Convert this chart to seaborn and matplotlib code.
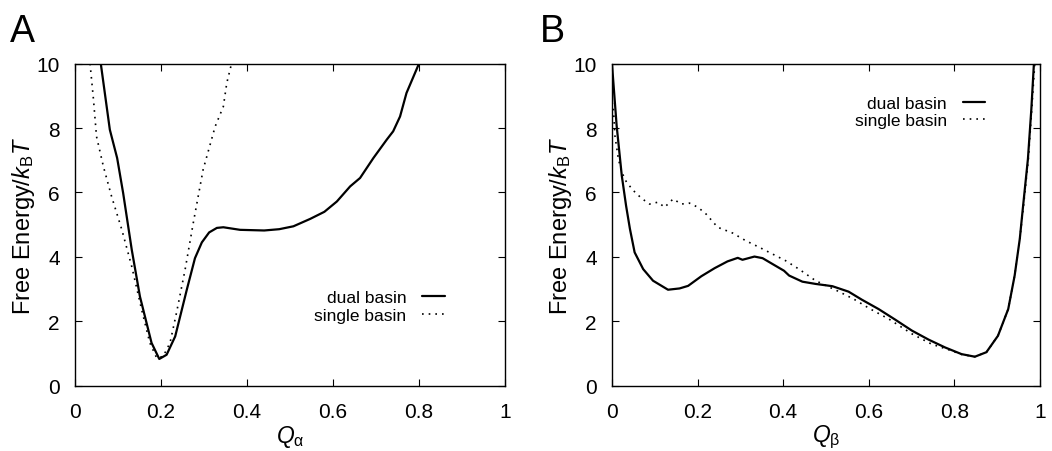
import matplotlib
matplotlib.use('Agg')
import matplotlib.pyplot as plt
import seaborn as sns

# Panel A: free energy along Q_alpha
qa_dual = [0.06, 0.081, 0.098, 0.112, 0.132, 0.151, 0.178, 0.196, 0.213, 0.233, 0.26, 0.279,
           0.295, 0.312, 0.33, 0.345, 0.384, 0.44, 0.475, 0.508, 0.547, 0.58, 0.609, 0.64,
           0.663, 0.694, 0.725, 0.74, 0.756, 0.771, 0.80]
fa_dual = [10, 7.95, 7.07, 5.98, 4.22, 2.77, 1.33, 0.83, 0.96, 1.53, 2.98, 3.96,
           4.45, 4.76, 4.9, 4.92, 4.84, 4.82, 4.86, 4.95, 5.18, 5.4, 5.72, 6.19,
           6.45, 7.07, 7.64, 7.9, 8.36, 9.09, 10]
qa_single = [0.035, 0.043, 0.05, 0.066, 0.085, 0.109, 0.132, 0.155, 0.174, 0.19, 0.205,
             0.221, 0.236, 0.256, 0.275, 0.298, 0.326, 0.345, 0.353, 0.364, 0.375]
fa_single = [10, 8.88, 7.74, 6.81, 5.88, 4.84, 3.70, 2.36, 1.33, 0.86, 0.91,
             1.33, 2.26, 3.6, 5.05, 6.71, 8.05, 8.67, 9.4, 10, 10]

# Panel B: free energy along Q_beta
qb_dual = [0.0, 0.011, 0.023, 0.033, 0.042, 0.053, 0.073, 0.096, 0.131, 0.158, 0.178, 0.209,
           0.24, 0.27, 0.294, 0.305, 0.333, 0.352, 0.375, 0.402, 0.414, 0.445, 0.476, 0.515,
           0.553, 0.584, 0.623, 0.662, 0.701, 0.74, 0.778, 0.817, 0.848, 0.875, 0.902, 0.926,
           0.941, 0.953, 0.96, 0.972, 0.98, 0.986]
fb_dual = [10, 8.07, 6.52, 5.59, 4.87, 4.14, 3.62, 3.26, 2.98, 3.02, 3.1, 3.4,
           3.65, 3.86, 3.97, 3.91, 4.01, 3.96, 3.78, 3.57, 3.42, 3.23, 3.16, 3.09,
           2.92, 2.67, 2.38, 2.05, 1.71, 1.43, 1.19, 0.98, 0.9, 1.04, 1.55, 2.38,
           3.42, 4.56, 5.49, 7.04, 8.59, 10]
qb_single = [0.0, 0.003, 0.007, 0.015, 0.023, 0.034, 0.05, 0.069, 0.088, 0.108, 0.123, 0.143,
             0.162, 0.181, 0.201, 0.22, 0.247, 0.282, 0.313, 0.344, 0.375, 0.406, 0.437, 0.476,
             0.526, 0.565, 0.604, 0.647, 0.701, 0.747, 0.786, 0.817, 0.848, 0.875, 0.902, 0.926,
             0.941, 0.953, 0.961, 0.973, 0.981, 0.988]
fb_single = [8.8, 8.7, 7.76, 7.04, 6.63, 6.32, 6.06, 5.82, 5.64, 5.7, 5.54, 5.8,
             5.64, 5.67, 5.54, 5.33, 4.92, 4.74, 4.5, 4.3, 4.09, 3.88, 3.62, 3.26,
             2.95, 2.69, 2.38, 2.07, 1.61, 1.29, 1.12, 0.97, 0.9, 1.04, 1.55, 2.38,
             3.42, 4.56, 5.49, 7.04, 8.59, 10]

ticks = [0, 0.2, 0.4, 0.6, 0.8, 1]
tick_labels = ['0', '0.2', '0.4', '0.6', '0.8', '1']
yticks = [0, 2, 4, 6, 8, 10]

sns.set_theme(style='ticks')
plt.rcParams['font.family'] = ['Liberation Sans', 'DejaVu Sans']
plt.rcParams['mathtext.fontset'] = 'custom'
plt.rcParams['mathtext.rm'] = 'Liberation Sans'
plt.rcParams['mathtext.it'] = 'Liberation Sans:italic'
plt.rcParams['text.color'] = 'black'
plt.rcParams['axes.labelcolor'] = 'black'

fig = plt.figure(figsize=(10.52, 4.52), dpi=100)
ax_a = fig.add_axes([0.0713, 0.1445, 0.4087, 0.7124])
ax_b = fig.add_axes([0.5817, 0.1445, 0.4068, 0.7124])

panels = [
    (ax_a, qa_dual, fa_dual, qa_single, fa_single, r'$Q_{\mathrm{α}}$', (0.86, 0.245)),
    (ax_b, qb_dual, fb_dual, qb_single, fb_single, r'$Q_{\mathrm{β}}$', (0.872, 0.85)),
]

for ax, qd, fd, qs, fs, xlab, anchor in panels:
    sns.lineplot(x=qd, y=fd, ax=ax, color='black', lw=1.6, sort=False, estimator=None,
                 label='dual basin')
    sns.lineplot(x=qs, y=fs, ax=ax, color='black', lw=1.2, sort=False, estimator=None,
                 linestyle=(0, (1, 3)), label='single basin')
    ax.set_xlim(0, 1)
    ax.set_ylim(0, 10)
    ax.set_xticks(ticks)
    ax.set_xticklabels(tick_labels)
    ax.set_yticks(yticks)
    ax.tick_params(direction='in', top=True, right=True, length=5, width=0.8,
                   labelsize=15, colors='black')
    ax.tick_params(axis='x', pad=12)
    ax.tick_params(axis='y', pad=11)
    for s in ax.spines.values():
        s.set_linewidth(1.0)
        s.set_color('black')
    ax.set_xlabel(xlab, fontsize=16.5)
    ax.set_ylabel(r'Free Energy/$k_{\mathrm{B}}T$', fontsize=17)
    ax.xaxis.set_label_coords(0.5, -0.115)
    ax.yaxis.set_label_coords(-0.088, 0.5)
    ax.legend(loc='center right', bbox_to_anchor=anchor, frameon=False, markerfirst=False,
              fontsize=12.5, handlelength=1.3, handletextpad=0.9, labelspacing=0.15,
              borderpad=0, borderaxespad=0)

fig.text(0.0095, 0.907, 'A', fontsize=27)
fig.text(0.513, 0.907, 'B', fontsize=27)

fig.savefig('out.png', dpi=100)
